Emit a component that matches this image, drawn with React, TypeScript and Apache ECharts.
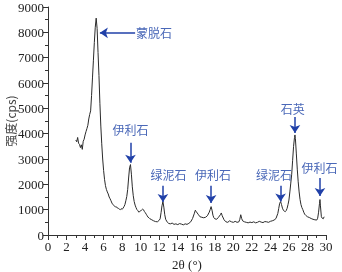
import React, { useEffect, useRef } from "react";
import * as echarts from "echarts";

const twoTheta: number[] = [
  3.0, 3.1, 3.2, 3.3, 3.4, 3.5, 3.6, 3.7, 3.8, 3.9,
  4.0, 4.1, 4.2, 4.3, 4.4, 4.5, 4.6, 4.7, 4.8, 4.9,
  5.0, 5.1, 5.2, 5.3, 5.4, 5.5, 5.6, 5.7, 5.8, 5.9,
  6.0, 6.1, 6.2, 6.3, 6.4, 6.5, 6.6, 6.7, 6.8, 6.9,
  7.0, 7.1, 7.2, 7.3, 7.4, 7.5, 7.6, 7.7, 7.8, 7.9,
  8.0, 8.1, 8.2, 8.3, 8.4, 8.5, 8.6, 8.7, 8.8, 8.9,
  9.0, 9.1, 9.2, 9.3, 9.4, 9.5, 9.6, 9.7, 9.8, 9.9,
  10.0, 10.1, 10.2, 10.3, 10.4, 10.5, 10.6, 10.7, 10.8, 10.9,
  11.0, 11.2, 11.4, 11.6, 11.8, 12.0, 12.1, 12.2, 12.3, 12.4,
  12.5, 12.6, 12.7, 12.8, 12.9, 13.0, 13.2, 13.4, 13.6, 13.8,
  14.0, 14.2, 14.4, 14.6, 14.8, 15.0, 15.2, 15.4, 15.6, 15.8,
  15.9, 16.0, 16.2, 16.4, 16.6, 16.8, 17.0, 17.2, 17.4, 17.5,
  17.6, 17.7, 17.8, 17.9, 18.0, 18.2, 18.4, 18.6, 18.7, 18.8,
  19.0, 19.2, 19.4, 19.6, 19.8, 20.0, 20.2, 20.4, 20.6, 20.7,
  20.8, 20.9, 21.0, 21.2, 21.4, 21.6, 21.8, 22.0, 22.2, 22.4,
  22.6, 22.8, 23.0, 23.2, 23.4, 23.6, 23.8, 24.0, 24.2, 24.4,
  24.6, 24.8, 24.9, 25.0, 25.1, 25.2, 25.3, 25.4, 25.5, 25.6,
  25.7, 25.8, 25.9, 26.0, 26.1, 26.2, 26.3, 26.4, 26.5, 26.6,
  26.65, 26.7, 26.8, 26.9, 27.0, 27.1, 27.2, 27.3, 27.4, 27.5,
  27.6, 27.7, 27.8, 28.0, 28.2, 28.4, 28.6, 28.8, 29.0, 29.1,
  29.2, 29.3, 29.35, 29.4, 29.5, 29.6, 29.7, 29.8,
];

const intensity: number[] = [
  3750, 3680, 3850, 3620, 3580, 3450, 3560, 3380, 3700, 3780,
  3950, 4080, 4200, 4330, 4580, 4760, 4900, 5500, 6200, 6900,
  7600, 8200, 8560, 8150, 7200, 6300, 5200, 4300, 3600, 3000,
  2550, 2200, 1950, 1800, 1700, 1620, 1500, 1430, 1350, 1260,
  1200, 1170, 1140, 1100, 1110, 1060, 1050, 1020, 1000, 1040,
  1010, 1060, 1120, 1200, 1350, 1520, 1800, 2250, 2650, 2780,
  2400, 1900, 1550, 1320, 1180, 1080, 1000, 960, 900, 930,
  950, 990, 1020, 1000, 930, 880, 820, 760, 700, 680,
  640, 600, 560, 530, 520, 580, 640, 880, 1150, 1320,
  1100, 800, 620, 550, 500, 460, 440, 470, 420, 440,
  410, 450, 430, 400, 440, 420, 460, 520, 650, 860,
  980, 920, 820, 720, 700, 680, 700, 760, 900, 1000,
  1120, 980, 780, 680, 640, 620, 700, 800, 870, 760,
  600, 520, 500, 560, 520, 500, 540, 500, 520, 620,
  800, 650, 560, 520, 500, 480, 510, 490, 520, 480,
  500, 540, 510, 490, 530, 520, 500, 540, 560, 590,
  650, 850, 1050, 1250, 1320, 1200, 1060, 980, 940, 920,
  960, 1050, 1200, 1380, 1700, 2050, 2400, 2950, 3500, 3850,
  3950, 3800, 3200, 2600, 2100, 1700, 1400, 1200, 1080, 1000,
  900, 820, 780, 720, 690, 650, 620, 600, 590, 660,
  900, 1250, 1400, 1150, 720, 660, 640, 720,
];

const annotationLabels: string[] = ["蒙脱石", "伊利石", "绿泥石", "伊利石", "绿泥石", "石英", "伊利石"];
const labelPositions: number[][] = [
  [11.45, 7980], [8.9, 4150], [13.0, 2370], [17.8, 2370], [24.4, 2370], [26.4, 4980], [29.3, 2650],
];
const arrowStarts: number[][] = [
  [9.4, 7980], [8.9, 3640], [12.4, 1940], [17.6, 1940], [25.1, 1940], [26.65, 4660], [29.35, 2250],
];
const arrowEnds: number[][] = [
  [5.6, 7980], [8.9, 2850], [12.4, 1300], [17.6, 1260], [25.1, 1320], [26.65, 4030], [29.35, 1540],
];

const xTicks = { min: 0, max: 30, interval: 2 };
const yTicks = { min: 0, max: 9000, interval: 1000 };

export default function App() {
  const ref = useRef<HTMLDivElement>(null);
  useEffect(() => {
    if (!ref.current) return;
    const chart = echarts.init(ref.current, null, { renderer: "svg" });
    const serif = "Liberation Serif";
    const cjk = "Noto Sans CJK SC";
    const axisCommon = {
      axisLine: { show: true, lineStyle: { color: "#333", width: 1 } },
      axisTick: { show: true, length: 5, lineStyle: { color: "#333" } },
      minorTick: { show: true, splitNumber: 2, length: 3, lineStyle: { color: "#333" } },
      splitLine: { show: false },
    };
    const labelStyle = {
      color: "#222",
      fontFamily: serif,
      fontSize: 13,
      formatter: (v: number) => String(v),
    };
    chart.setOption({
      animation: false,
      grid: { left: 48, right: 16, top: 7, bottom: 37, containLabel: false, outerBoundsMode: "none" },
      xAxis: {
        type: "value",
        ...xTicks,
        ...axisCommon,
        axisLabel: { ...labelStyle, margin: 5 },
        name: "2θ (°)",
        nameLocation: "middle",
        nameGap: 23,
        nameMoveOverlap: false,
        nameTextStyle: { color: "#222", fontFamily: serif, fontSize: 13 },
      },
      yAxis: {
        type: "value",
        ...yTicks,
        ...axisCommon,
        axisLabel: { ...labelStyle, margin: 4 },
        name: "强度(cps)",
        nameLocation: "middle",
        nameGap: 32,
        nameRotate: 90,
        nameMoveOverlap: false,
        nameTextStyle: { color: "#444", fontFamily: cjk, fontSize: 12 },
      },
      series: [
        {
          type: "line",
          data: twoTheta.map((x, i) => [x, intensity[i]]),
          showSymbol: false,
          symbol: "none",
          lineStyle: { color: "#2a2a2a", width: 1 },
          markLine: {
            silent: true,
            symbol: ["none", "arrow"],
            symbolSize: 8,
            lineStyle: { color: "#2040a8", width: 1.5, type: "solid" },
            itemStyle: { color: "#2040a8" },
            label: { show: false },
            data: arrowStarts.map((s, i) => [
              { coord: s },
              { coord: arrowEnds[i] },
            ]),
          },
          markPoint: {
            silent: true,
            symbol: "circle",
            symbolSize: 0,
            label: {
              show: true,
              position: "inside",
              color: "#4a68b8",
              fontFamily: cjk,
              fontSize: 12,
              formatter: (p: any) => p.name,
            },
            data: labelPositions.map((c, i) => ({ name: annotationLabels[i], coord: c })),
          },
        },
      ],
    });
    return () => chart.dispose();
  }, []);
  return (
    <div
      ref={ref}
      style={{ position: "fixed", left: 0, top: 0, width: 342, height: 272 }}
    />
  );
}
